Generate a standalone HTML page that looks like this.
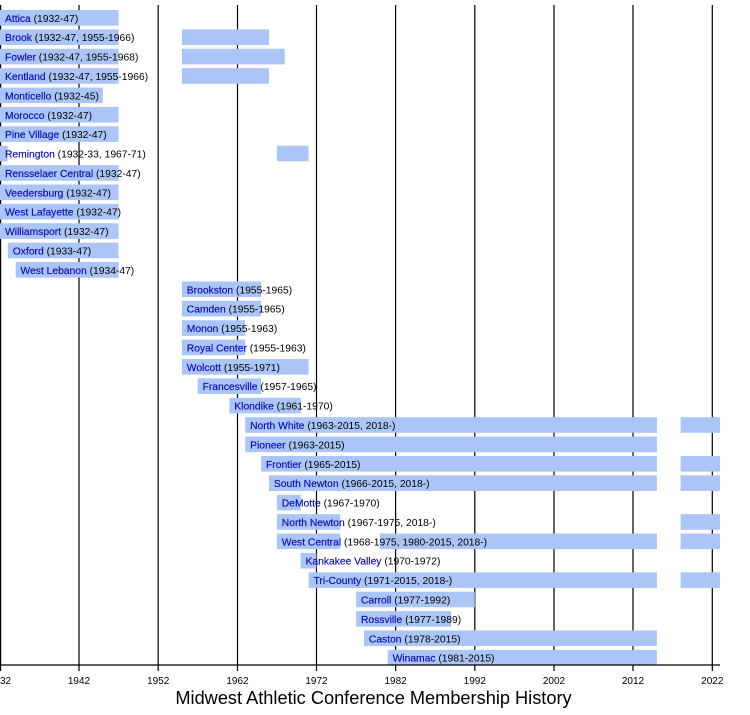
<!DOCTYPE html>
<html>
<head>
<meta charset="utf-8">
<style>
html,body{margin:0;padding:0;background:#fff;}
svg{display:block;}
text{font-family:"Liberation Sans",Arial,sans-serif;}
.n{fill:#0808b0;stroke:#0808b0;stroke-width:0.15;}
.lab{font-size:10.3px;fill:#000;}
.tk{font-size:10px;fill:#000;}
</style>
</head>
<body>
<svg width="750" height="715" viewBox="0 0 750 715" xmlns="http://www.w3.org/2000/svg">
<rect x="0" y="0" width="750" height="715" fill="#fff"/>
<!-- gridlines -->
<g stroke="#000" stroke-width="1.2">
<line x1="0.6" y1="5" x2="0.6" y2="665"/>
<line x1="79" y1="5" x2="79" y2="665"/>
<line x1="158.2" y1="5" x2="158.2" y2="665"/>
<line x1="237.5" y1="5" x2="237.5" y2="665"/>
<line x1="316.5" y1="5" x2="316.5" y2="665"/>
<line x1="395.6" y1="5" x2="395.6" y2="665"/>
<line x1="474.8" y1="5" x2="474.8" y2="665"/>
<line x1="554" y1="5" x2="554" y2="665"/>
<line x1="633" y1="5" x2="633" y2="665"/>
<line x1="712.3" y1="5" x2="712.3" y2="665"/>
</g>
<!-- bars -->
<g fill="#abc5f7">
<rect x="0" y="10" width="118.6" height="15.6"/>
<rect x="0" y="29.39" width="118.6" height="15.6"/><rect x="181.9" y="29.39" width="87.1" height="15.6"/>
<rect x="0" y="48.78" width="118.6" height="15.6"/><rect x="181.9" y="48.78" width="102.9" height="15.6"/>
<rect x="0" y="68.17" width="118.6" height="15.6"/><rect x="181.9" y="68.17" width="87.1" height="15.6"/>
<rect x="0" y="87.56" width="102.75" height="15.6"/>
<rect x="0" y="106.95" width="118.6" height="15.6"/>
<rect x="0" y="126.34" width="118.6" height="15.6"/>
<rect x="0" y="145.73" width="7.76" height="15.6"/><rect x="276.9" y="145.73" width="31.7" height="15.6"/>
<rect x="0" y="165.12" width="118.6" height="15.6"/>
<rect x="0" y="184.51" width="118.6" height="15.6"/>
<rect x="0" y="203.9" width="118.6" height="15.6"/>
<rect x="0" y="223.29" width="118.6" height="15.6"/>
<rect x="7.76" y="242.68" width="110.8" height="15.6"/>
<rect x="15.67" y="262.07" width="102.9" height="15.6"/>
<rect x="181.9" y="281.46" width="79.2" height="15.6"/>
<rect x="181.9" y="300.85" width="79.2" height="15.6"/>
<rect x="181.9" y="320.24" width="63.3" height="15.6"/>
<rect x="181.9" y="339.63" width="63.3" height="15.6"/>
<rect x="181.9" y="359.02" width="126.7" height="15.6"/>
<rect x="197.7" y="378.41" width="63.4" height="15.6"/>
<rect x="229.4" y="397.8" width="71.3" height="15.6"/>
<rect x="245.2" y="417.19" width="411.7" height="15.6"/><rect x="680.6" y="417.19" width="39.4" height="15.6"/>
<rect x="245.2" y="436.58" width="411.7" height="15.6"/>
<rect x="261.1" y="455.97" width="395.8" height="15.6"/><rect x="680.6" y="455.97" width="39.4" height="15.6"/>
<rect x="269" y="475.36" width="387.9" height="15.6"/><rect x="680.6" y="475.36" width="39.4" height="15.6"/>
<rect x="276.9" y="494.75" width="23.75" height="15.6"/>
<rect x="276.9" y="514.14" width="63.3" height="15.6"/><rect x="680.6" y="514.14" width="39.4" height="15.6"/>
<rect x="276.9" y="533.53" width="63.3" height="15.6"/><rect x="379.8" y="533.53" width="277.1" height="15.6"/><rect x="680.6" y="533.53" width="39.4" height="15.6"/>
<rect x="300.65" y="552.92" width="15.8" height="15.6"/>
<rect x="308.6" y="572.31" width="348.3" height="15.6"/><rect x="680.6" y="572.31" width="39.4" height="15.6"/>
<rect x="356.1" y="591.7" width="118.7" height="15.6"/>
<rect x="356.1" y="611.09" width="95" height="15.6"/>
<rect x="364" y="630.48" width="292.9" height="15.6"/>
<rect x="387.7" y="649.87" width="269.2" height="15.6"/>
</g>
<!-- labels -->
<g class="lab">
<text x="5" y="21.8"><tspan class="n">Attica</tspan> (1932-47)</text>
<text x="5" y="41.19"><tspan class="n">Brook</tspan> (1932-47, 1955-1966)</text>
<text x="5" y="60.58"><tspan class="n">Fowler</tspan> (1932-47, 1955-1968)</text>
<text x="5" y="79.97"><tspan class="n">Kentland</tspan> (1932-47, 1955-1966)</text>
<text x="5" y="99.36"><tspan class="n">Monticello</tspan> (1932-45)</text>
<text x="5" y="118.75"><tspan class="n">Morocco</tspan> (1932-47)</text>
<text x="5" y="138.14"><tspan class="n">Pine Village</tspan> (1932-47)</text>
<text x="5" y="157.53"><tspan class="n">Remington</tspan> (1932-33, 1967-71)</text>
<text x="5" y="176.92"><tspan class="n">Rensselaer Central</tspan> (1932-47)</text>
<text x="5" y="196.31"><tspan class="n">Veedersburg</tspan> (1932-47)</text>
<text x="5" y="215.7"><tspan class="n">West Lafayette</tspan> (1932-47)</text>
<text x="5" y="235.09"><tspan class="n">Williamsport</tspan> (1932-47)</text>
<text x="12.8" y="254.48"><tspan class="n">Oxford</tspan> (1933-47)</text>
<text x="20.5" y="273.87"><tspan class="n">West Lebanon</tspan> (1934-47)</text>
<text x="186.8" y="293.26"><tspan class="n">Brookston</tspan> (1955-1965)</text>
<text x="186.8" y="312.65"><tspan class="n">Camden</tspan> (1955-1965)</text>
<text x="186.8" y="332.04"><tspan class="n">Monon</tspan> (1955-1963)</text>
<text x="186.8" y="351.43"><tspan class="n">Royal Center</tspan> (1955-1963)</text>
<text x="186.8" y="370.82"><tspan class="n">Wolcott</tspan> (1955-1971)</text>
<text x="202.6" y="390.21"><tspan class="n">Francesville</tspan> (1957-1965)</text>
<text x="234.3" y="409.6"><tspan class="n">Klondike</tspan> (1961-1970)</text>
<text x="250.1" y="428.99"><tspan class="n">North White</tspan> (1963-2015, 2018-)</text>
<text x="250.1" y="448.38"><tspan class="n">Pioneer</tspan> (1963-2015)</text>
<text x="266" y="467.77"><tspan class="n">Frontier</tspan> (1965-2015)</text>
<text x="273.9" y="487.16"><tspan class="n">South Newton</tspan> (1966-2015, 2018-)</text>
<text x="281.8" y="506.55"><tspan class="n">DeMotte</tspan> (1967-1970)</text>
<text x="281.8" y="525.94"><tspan class="n">North Newton</tspan> (1967-1975, 2018-)</text>
<text x="281.8" y="545.33"><tspan class="n">West Central</tspan> (1968-1975, 1980-2015, 2018-)</text>
<text x="305.5" y="564.72"><tspan class="n">Kankakee Valley</tspan> (1970-1972)</text>
<text x="313.5" y="584.11"><tspan class="n">Tri-County</tspan> (1971-2015, 2018-)</text>
<text x="361" y="603.5"><tspan class="n">Carroll</tspan> (1977-1992)</text>
<text x="361" y="622.89"><tspan class="n">Rossville</tspan> (1977-1989)</text>
<text x="368.9" y="642.28"><tspan class="n">Caston</tspan> (1978-2015)</text>
<text x="392.6" y="661.67"><tspan class="n">Winamac</tspan> (1981-2015)</text>
</g>
<!-- axis -->
<line x1="0" y1="665" x2="720" y2="665" stroke="#000" stroke-width="1.3"/>
<g stroke="#000" stroke-width="1.2">
<line x1="0.6" y1="665" x2="0.6" y2="671"/>
<line x1="79" y1="665" x2="79" y2="671"/>
<line x1="158.2" y1="665" x2="158.2" y2="671"/>
<line x1="237.5" y1="665" x2="237.5" y2="671"/>
<line x1="316.5" y1="665" x2="316.5" y2="671"/>
<line x1="395.6" y1="665" x2="395.6" y2="671"/>
<line x1="474.8" y1="665" x2="474.8" y2="671"/>
<line x1="554" y1="665" x2="554" y2="671"/>
<line x1="633" y1="665" x2="633" y2="671"/>
<line x1="712.3" y1="665" x2="712.3" y2="671"/>
</g>
<g class="tk" text-anchor="middle">
<text x="0" y="684">1932</text>
<text x="79" y="684">1942</text>
<text x="158.2" y="684">1952</text>
<text x="237.5" y="684">1962</text>
<text x="316.5" y="684">1972</text>
<text x="395.6" y="684">1982</text>
<text x="474.8" y="684">1992</text>
<text x="554" y="684">2002</text>
<text x="633" y="684">2012</text>
<text x="712.3" y="684">2022</text>
</g>
<text x="373.5" y="704" text-anchor="middle" font-size="18.2" fill="#000">Midwest Athletic Conference Membership History</text>
</svg>
</body>
</html>
